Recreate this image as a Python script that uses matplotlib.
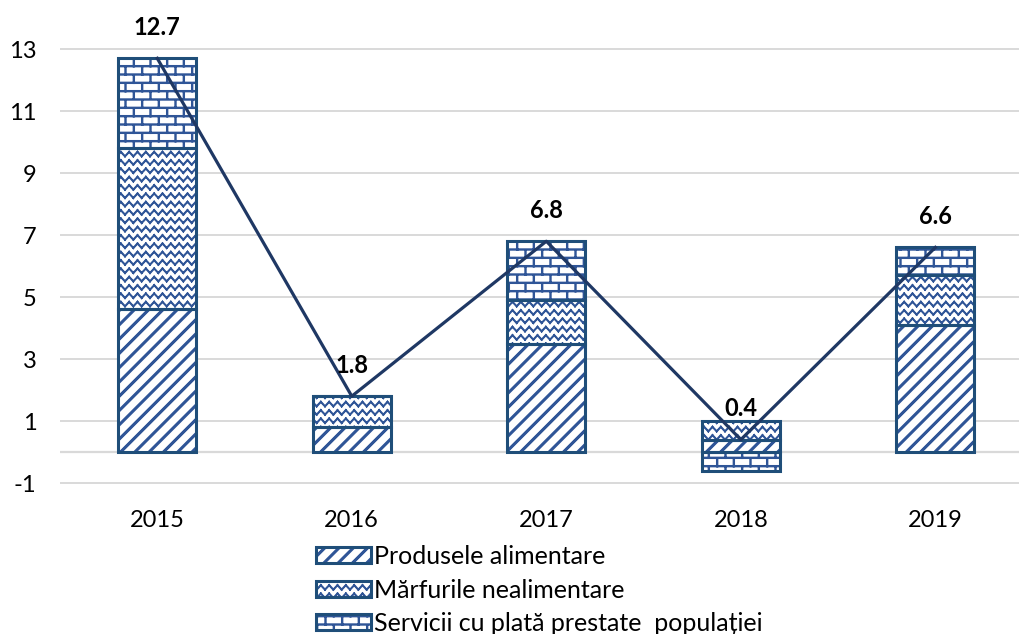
import warnings
import numpy as np
import matplotlib
matplotlib.use("Agg")
import matplotlib.pyplot as plt
import matplotlib.hatch as mhatch
from matplotlib.path import Path
from matplotlib.patches import Patch

warnings.filterwarnings("ignore")

years = ["2015", "2016", "2017", "2018", "2019"]
food = [4.6, 0.8, 3.5, 0.4, 4.1]
nonfood = [5.2, 1.0, 1.4, 0.6, 1.6]
services = [2.9, 0.0, 1.9, -0.6, 0.9]
totals = [12.7, 1.8, 6.8, 0.4, 6.6]
series_names = ["Produsele alimentare", "Mărfurile nealimentare",
                "Servicii cu plată prestate  populației"]


# custom hatch patterns: stripes, zigzag, bricks (unit tile = 1 inch)
class SegHatch(mhatch.HatchPatternBase):
    char = None

    def __init__(self, hatch, density):
        self.segs = self.make() if self.char in hatch else []
        self.num_vertices = len(self.segs) * 2

    def set_vertices_and_codes(self, vertices, codes):
        vertices[:] = np.array(self.segs, dtype=float).reshape(-1, 2)
        codes[0::2] = Path.MOVETO
        codes[1::2] = Path.LINETO


class StripeHatch(SegHatch):
    char = "s"

    def make(self):
        segs = []
        n = 7
        for i in range(-8, 9):
            for d in (0.0, 0.012, 0.024):
                a = i / n + d
                segs.append(((a - 0.1, -0.1), (a + 1.1, 1.1)))
        return segs


class ZigHatch(SegHatch):
    char = "z"

    def make(self):
        segs = []
        rows, per = 12, 12
        amp = 0.045
        for i in range(rows + 1):
            for d in (0.0, 0.01):
                y0 = i / rows + 0.015 + d
                pts = [(k / (2 * per), y0 + (k % 2) * amp)
                       for k in range(2 * per + 1)]
                for p, q in zip(pts[:-1], pts[1:]):
                    segs.append((p, q))
        return segs


class BrickHatch(SegHatch):
    char = "b"

    def make(self):
        segs = []
        rows, cols = 12, 6
        for i in range(rows + 1):
            for d in (0.0, 0.01):
                y = i / rows + d
                segs.append(((-0.05, y), (1.05, y)))
        for i in range(rows):
            y0, y1 = i / rows, (i + 1) / rows
            off = 0.5 * (i % 2)
            for j in range(-1, cols + 1):
                for d in (0.0, 0.01):
                    x = (j + off) / cols + d
                    segs.append(((x, y0), (x, y1)))
        return segs


mhatch._hatch_types.extend([StripeHatch, ZigHatch, BrickHatch])

plt.rcParams["font.family"] = ["Lato", "DejaVu Sans"]
plt.rcParams["hatch.linewidth"] = 1.0
plt.rcParams["axes.unicode_minus"] = False

edge_c = "#1F4E79"
hatch_c = "#2F5597"
line_c = "#1F3864"
hatches = ["s", "z", "b"]

fig = plt.figure(figsize=(10.19, 6.34), dpi=100)
ax = fig.add_axes([60 / 1019, 0.2137, 1 - 60 / 1019, 0.7823])

x = np.arange(len(years))
width = 0.40
pos_bottom = np.zeros(len(years))
neg_bottom = np.zeros(len(years))
handles = []
for vals, h in zip([food, nonfood, services], hatches):
    vals = np.array(vals)
    bottom = np.where(vals >= 0, pos_bottom, neg_bottom)
    ax.bar(x, vals, width, bottom=bottom, color="white", edgecolor=hatch_c,
           linewidth=0, hatch=h, zorder=2)
    ax.bar(x, vals, width, bottom=bottom, fill=False, edgecolor=edge_c,
           linewidth=2.2, zorder=3)
    pos_bottom = pos_bottom + np.where(vals >= 0, vals, 0)
    neg_bottom = neg_bottom + np.where(vals < 0, vals, 0)
    handles.append((Patch(facecolor="white", edgecolor=hatch_c, linewidth=0, hatch=h),
                    Patch(fill=False, edgecolor=edge_c, linewidth=2.2)))

ax.plot(x, totals, color=line_c, linewidth=2.3, zorder=4)
for xi, t in zip(x, totals):
    ax.annotate(f"{t:.1f}", (xi, t), xytext=(0, 31), textcoords="offset pixels",
                ha="center", va="center", fontsize=17, fontweight="bold",
                color="black", zorder=5)

ax.set_xlim(-0.5, 4.43)
ax.set_ylim(-1.5, 14.5)
ax.set_yticks(range(-1, 14, 2))
ax.set_xticks(x)
ax.set_xticklabels(years)
ax.yaxis.grid(True, color="#D9D9D9", linewidth=1.4, zorder=0)
ax.axhline(0, color="#D9D9D9", linewidth=1.6, zorder=1)
ax.set_axisbelow(True)
for sp in ax.spines.values():
    sp.set_visible(False)
ax.tick_params(axis="both", length=0, labelsize=17, colors="black")
ax.tick_params(axis="y", pad=17)
ax.tick_params(axis="x", pad=8)
for lbl in ax.get_yticklabels():
    lbl.set_horizontalalignment("right")

fig.legend(handles, series_names, loc="upper left",
           bbox_to_anchor=(316 / 1019, 1 - 545 / 634), frameon=False,
           fontsize=18, handlelength=2.2, handleheight=0.6,
           handletextpad=0.1, labelspacing=0.42, borderpad=0, borderaxespad=0)

fig.savefig("out.png", dpi=100)
